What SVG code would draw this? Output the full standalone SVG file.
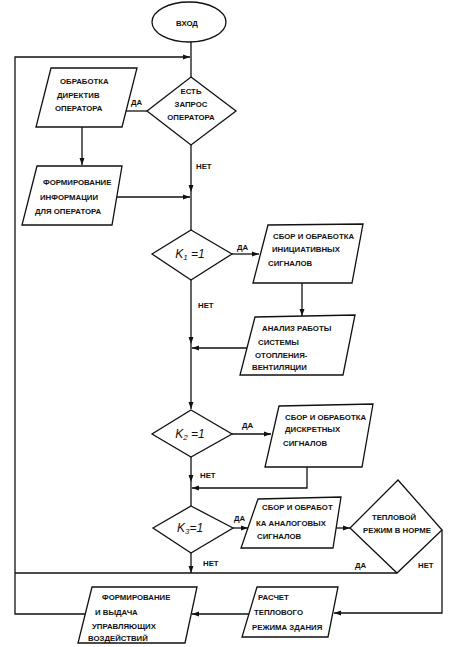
<svg xmlns="http://www.w3.org/2000/svg" width="450" height="647" viewBox="0 0 450 647">
<style>
.s{fill:none;stroke:#111;stroke-width:1.3}
.t{font-family:"Liberation Sans",Arial,sans-serif;font-weight:bold;font-size:7.8px;fill:#111}
.c{text-anchor:middle}
.k{font-family:"Liberation Sans",Arial,sans-serif;font-style:italic;font-size:12px;fill:#111;text-anchor:middle}
.ks{font-size:8px}
</style>
<defs>
<marker id="a" markerWidth="8" markerHeight="6" refX="7" refY="3" orient="auto" markerUnits="userSpaceOnUse">
<path d="M0,0.5 L7,3 L0,5.5 Z" fill="#111"/>
</marker>
</defs>
<rect width="450" height="647" fill="#fff"/>
<g id="connectors" class="s">
<line x1="191" y1="42" x2="191" y2="77"/>
<polyline points="85,614 15,614 15,57 190,57" marker-end="url(#a)"/>
<line x1="147" y1="111" x2="126" y2="111"/>
<line x1="82" y1="127" x2="82" y2="165" marker-end="url(#a)"/>
<line x1="117" y1="197" x2="190" y2="197" marker-end="url(#a)"/>
<line x1="191" y1="145" x2="191" y2="192" marker-end="url(#a)"/>
<line x1="191" y1="192" x2="191" y2="230"/>
<line x1="232" y1="254" x2="259" y2="254" marker-end="url(#a)"/>
<line x1="302" y1="283" x2="302" y2="316" marker-end="url(#a)"/>
<line x1="247" y1="348" x2="192" y2="348" marker-end="url(#a)"/>
<line x1="191" y1="280" x2="191" y2="344" marker-end="url(#a)"/>
<line x1="191" y1="344" x2="191" y2="409" marker-end="url(#a)"/>
<line x1="232" y1="434" x2="271" y2="434" marker-end="url(#a)"/>
<polyline points="307,467 307,488 192,488" marker-end="url(#a)"/>
<line x1="191" y1="457" x2="191" y2="482" marker-end="url(#a)"/>
<line x1="191" y1="482" x2="191" y2="506"/>
<line x1="233" y1="528" x2="248" y2="528" marker-end="url(#a)"/>
<line x1="336" y1="528" x2="350" y2="528" marker-end="url(#a)"/>
<line x1="191" y1="553" x2="191" y2="573" marker-end="url(#a)"/>
<line x1="397" y1="573" x2="15" y2="573"/>
<polyline points="442,530 442,613 334,613" marker-end="url(#a)"/>
<line x1="249" y1="614" x2="192" y2="614" marker-end="url(#a)"/>
</g>
<g id="start">
<ellipse class="s" cx="189" cy="22" rx="37" ry="20"/>
<text class="t c" x="187" y="26">ВХОД</text>
</g>
<g id="d_request">
<polygon class="s" points="191,77 236,111 191,145 147,111"/>
<text class="t c" x="191" y="94">ЕСТЬ</text>
<text class="t c" x="191" y="107">ЗАПРОС</text>
<text class="t c" x="191" y="120">ОПЕРАТОРА</text>
<text class="t" x="131" y="105">ДА</text>
<text class="t" x="196" y="169">НЕТ</text>
</g>
<g id="p_directives">
<polygon class="s" points="51,68 137,68 122,127 36,127"/>
<text class="t" x="60" y="84">ОБРАБОТКА</text>
<text class="t" x="57" y="98">ДИРЕКТИВ</text>
<text class="t" x="55" y="111">ОПЕРАТОРА</text>
</g>
<g id="p_info">
<polygon class="s" points="37,166 122,166 112,225 22,225"/>
<text class="t" x="43" y="185">ФОРМИРОВАНИЕ</text>
<text class="t" x="40" y="200">ИНФОРМАЦИИ</text>
<text class="t" x="35" y="214">ДЛЯ ОПЕРАТОРА</text>
</g>
<g id="d_k1">
<polygon class="s" points="191,230 232,254 191,280 152,254"/>
<text class="k" x="190" y="258">K<tspan class="ks" dy="2">1</tspan><tspan dy="-2"> =1</tspan></text>
<text class="t" x="237" y="250">ДА</text>
<text class="t" x="198" y="308">НЕТ</text>
</g>
<g id="p_init">
<polygon class="s" points="268,225 363,224 352,283 253,283"/>
<text class="t" x="273" y="239">СБОР И ОБРАБОТКА</text>
<text class="t" x="272" y="252">ИНИЦИАТИВНЫХ</text>
<text class="t" x="268" y="266">СИГНАЛОВ</text>
</g>
<g id="p_analysis">
<polygon class="s" points="255,317 355,315 343,375 240,375"/>
<text class="t" x="262" y="331">АНАЛИЗ РАБОТЫ</text>
<text class="t" x="258" y="345">СИСТЕМЫ</text>
<text class="t" x="255" y="358">ОТОПЛЕНИЯ-</text>
<text class="t" x="252" y="370">ВЕНТИЛЯЦИИ</text>
</g>
<g id="d_k2">
<polygon class="s" points="191,410 232,434 191,457 152,434"/>
<text class="k" x="190" y="438">K<tspan class="ks" dy="2">2</tspan><tspan dy="-2"> =1</tspan></text>
<text class="t" x="242" y="428">ДА</text>
<text class="t" x="200" y="478">НЕТ</text>
</g>
<g id="p_discrete">
<polygon class="s" points="279,406 373,404 362,467 265,467"/>
<text class="t" x="285" y="420">СБОР И ОБРАБОТКА</text>
<text class="t" x="285" y="432">ДИСКРЕТНЫХ</text>
<text class="t" x="283" y="446">СИГНАЛОВ</text>
</g>
<g id="d_k3">
<polygon class="s" points="191,506 233,528 191,553 153,528"/>
<text class="k" x="190" y="532">K<tspan class="ks" dy="2">3</tspan><tspan dy="-2">=1</tspan></text>
<text class="t" x="234" y="521">ДА</text>
<text class="t" x="203" y="566">НЕТ</text>
</g>
<g id="p_analog">
<polygon class="s" points="258,499 341,497 333,548 241,548"/>
<text class="t" x="262" y="510">СБОР И ОБРАБОТ</text>
<text class="t" x="256" y="526">КА АНАЛОГОВЫХ</text>
<text class="t" x="257" y="539">СИГНАЛОВ</text>
</g>
<g id="d_thermal">
<polygon class="s" points="398,480 442,530 397,573 350,528"/>
<text class="t c" x="394" y="520">ТЕПЛОВОЙ</text>
<text class="t c" x="397" y="533">РЕЖИМ В НОРМЕ</text>
<text class="t" x="355" y="568">ДА</text>
<text class="t" x="418" y="568">НЕТ</text>
</g>
<g id="p_calc">
<polygon class="s" points="257,587 338,587 328,637 242,637"/>
<text class="t" x="258" y="600">РАСЧЕТ</text>
<text class="t" x="254" y="615">ТЕПЛОВОГО</text>
<text class="t" x="252" y="630">РЕЖИМА ЗДАНИЯ</text>
</g>
<g id="p_output">
<polygon class="s" points="92,587 197,587 185,643 78,643"/>
<text class="t" x="102" y="600">ФОРМИРОВАНИЕ</text>
<text class="t" x="95" y="615">И ВЫДАЧА</text>
<text class="t" x="92" y="629">УПРАВЛЯЮЩИХ</text>
<text class="t" x="88" y="641">ВОЗДЕЙСТВИЙ</text>
</g>
</svg>
